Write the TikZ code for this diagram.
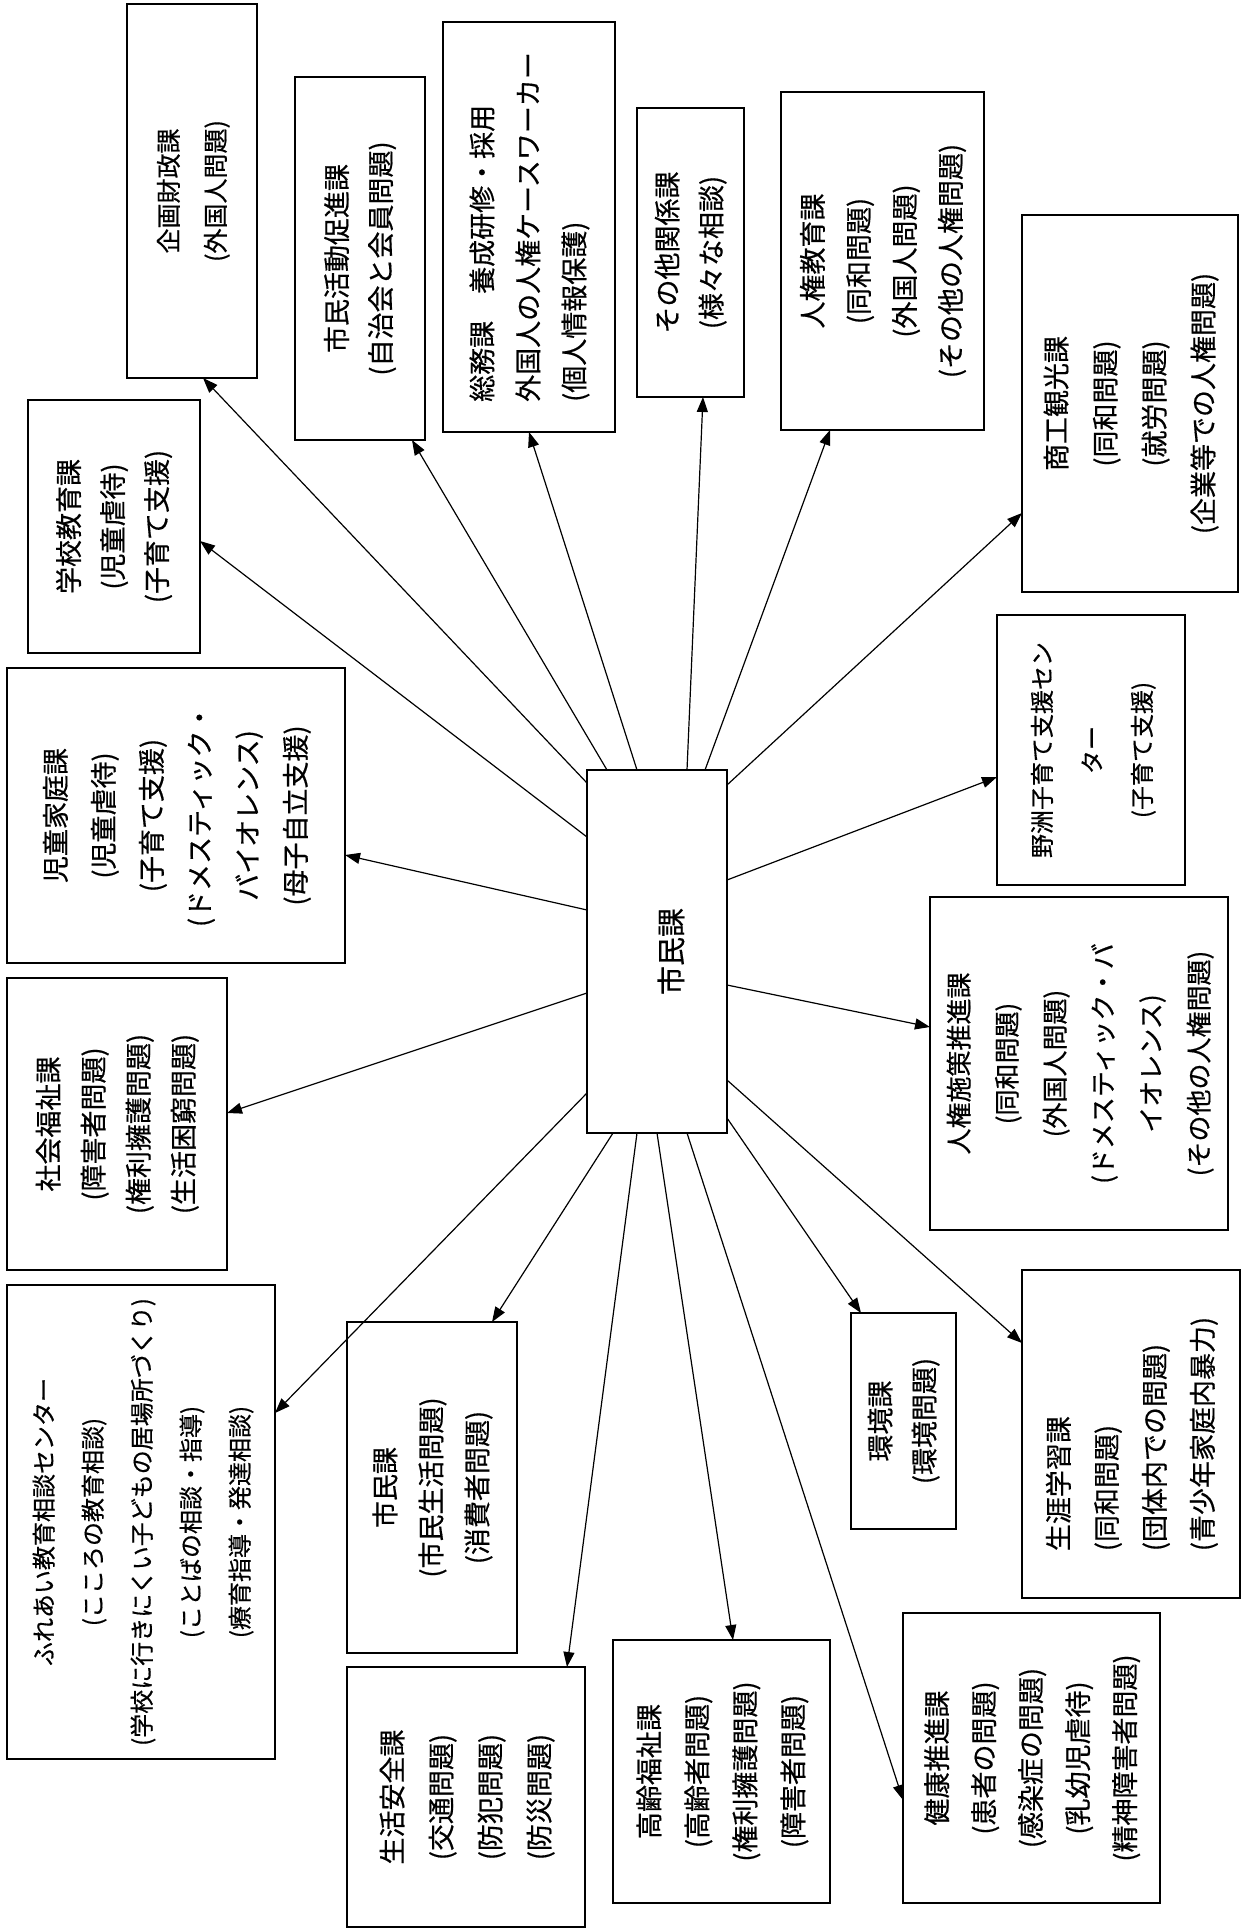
\documentclass[tikz,border=0pt]{standalone}
\usepackage{graphicx}
\usepackage{fontspec}
\setmainfont{Noto Sans CJK JP}[FakeBold=0.5]
\usetikzlibrary{arrows.meta}
\newcommand{\vtxt}[4][c]{\rotatebox{90}{\fontsize{#2}{#3}\selectfont\begin{tabular}{@{}#1@{}}#4\end{tabular}}}
\tikzset{
  box/.style={draw, line width=1.5pt, rectangle, inner sep=0pt, outer sep=0pt, fill=white},
  arr/.style={line width=1.2pt, -{Triangle[length=15pt,width=11pt]}}
}
\begin{document}
\begin{tikzpicture}[x=1pt,y=-1pt]
\fill[white] (0,0) rectangle (1252,1929);
\useasboundingbox (0,0) rectangle (1252,1929);

\node[box, minimum width=130pt, minimum height=374pt] (B1) at (192,191)
  {\vtxt{25}{47}{企画財政課\\(外国人問題)}};
\node[box, minimum width=130pt, minimum height=363pt] (B2) at (360,258.5)
  {\vtxt{27}{44}{市民活動促進課\\(自治会と会員問題)}};
\node[box, minimum width=172pt, minimum height=410pt] (B3) at (529,227)
  {\vtxt[l]{27}{46}{総務課　養成研修・採用\\外国人の人権ケースワーカー\\(個人情報保護)}};
\node[box, minimum width=107pt, minimum height=289pt] (B4) at (690.5,252.5)
  {\vtxt{27}{44}{その他関係課\\(様々な相談)}};
\node[box, minimum width=203pt, minimum height=338pt] (B5) at (882.5,261)
  {\vtxt{27}{46}{人権教育課\\(同和問題)\\(外国人問題)\\(その他の人権問題)}};
\node[box, minimum width=216pt, minimum height=377pt] (B6) at (1130,403.5)
  {\vtxt{27}{49}{商工観光課\\(同和問題)\\(就労問題)\\(企業等での人権問題)}};
\node[box, minimum width=172pt, minimum height=253pt] (B7) at (114,526.5)
  {\vtxt{27}{44}{学校教育課\\(児童虐待)\\(子育て支援)}};
\node[box, minimum width=338pt, minimum height=295pt] (B8) at (176,815.5)
  {\vtxt{27}{48}{児童家庭課\\(児童虐待)\\(子育て支援)\\(ドメスティック・\\バイオレンス)\\(母子自立支援)}};
\node[box, minimum width=188pt, minimum height=270pt] (B9) at (1091,750)
  {\vtxt{24}{50}{野洲子育て支援セン\\ター\hfill\\(子育て支援)}};
\node[box, minimum width=140pt, minimum height=363pt] (C) at (657,951.5)
  {\rotatebox{90}{\fontsize{29}{47}\selectfont\raisebox{-25pt}[0pt][0pt]{市民課}}};
\node[box, minimum width=298pt, minimum height=333pt] (B11) at (1079,1063.5)
  {\vtxt{26}{48}{人権施策推進課\\(同和問題)\\(外国人問題)\\(ドメスティック・バ\\イオレンス)\\(その他の人権問題)}};
\node[box, minimum width=220pt, minimum height=292pt] (B12) at (117,1124)
  {\vtxt{27}{45}{社会福祉課\\(障害者問題)\\(権利擁護問題)\\(生活困窮問題)}};
\node[box, minimum width=268pt, minimum height=474pt] (B13) at (141,1522)
  {\vtxt{24}{49}{ふれあい教育相談センター\\(こころの教育相談)\\(学校に行きにくい子どもの居場所づくり)\\(ことばの相談・指導)\\(療育指導・発達相談)}};
\node[box, minimum width=170pt, minimum height=331pt] (B14) at (432,1487.5)
  {\vtxt{27}{46}{市民課\\(市民生活問題)\\(消費者問題)}};
\node[box, minimum width=105pt, minimum height=216pt] (B15) at (903.5,1421)
  {\vtxt{27}{44}{環境課\\(環境問題)}};
\node[box, minimum width=218pt, minimum height=328pt] (B16) at (1131,1434)
  {\vtxt[l]{27}{48}{生涯学習課\\(同和問題)\\(団体内での問題)\\(青少年家庭内暴力)}};
\node[box, minimum width=238pt, minimum height=260pt] (B17) at (466,1797)
  {\vtxt{27}{49}{生活安全課\\(交通問題)\\(防犯問題)\\(防災問題)}};
\node[box, minimum width=217pt, minimum height=263pt] (B18) at (721.5,1771.5)
  {\vtxt{27}{48}{高齢福祉課\\(高齢者問題)\\(権利擁護問題)\\(障害者問題)}};
\node[box, minimum width=257pt, minimum height=290pt] (B19) at (1031.5,1758)
  {\vtxt{27}{47}{健康推進課\\(患者の問題)\\(感染症の問題)\\(乳幼児虐待)\\(精神障害者問題)}};

\draw[arr] ([yshift=-13pt]C.north west) -- ([xshift=11pt]B1.south);
\draw[arr] ([xshift=20pt]C.north west) -- ([xshift=52pt]B2.south);
\draw[arr] ([xshift=50pt]C.north west) -- (B3.south);
\draw[arr] ([xshift=100pt]C.north west) -- ([xshift=12.5pt]B4.south);
\draw[arr] ([xshift=118pt]C.north west) -- ([xshift=-52.5pt]B5.south);
\draw[arr] ([yshift=-15pt]C.north east) -- ([yshift=-109.5pt]B6.west);
\draw[arr] ([yshift=-67pt]C.north west) -- ([yshift=-14.5pt]B7.east);
\draw[arr] ([yshift=-140pt]C.north west) -- ([yshift=-39.5pt]B8.east);
\draw[arr] ([yshift=-110pt]C.north east) -- ([yshift=-27pt]B9.west);
\draw[arr] ([yshift=-215pt]C.north east) -- ([yshift=36.5pt]B11.west);
\draw[arr] ([yshift=-223pt]C.north west) -- ([yshift=11pt]B12.east);
\draw[arr] ([yshift=-323pt]C.north west) -- ([yshift=109pt]B13.east);
\draw[arr] ([xshift=26pt]C.south west) -- ([xshift=60pt]B14.north);
\draw[arr] ([xshift=50pt]C.south west) -- ([xshift=101pt]B17.north);
\draw[arr] ([xshift=70pt]C.south west) -- ([xshift=11.5pt]B18.north);
\draw[arr] ([xshift=100pt]C.south west) -- ([yshift=-42pt]B19.west);
\draw[arr] ([yshift=15pt]C.south east) -- ([xshift=-42.5pt]B15.north);
\draw[arr] ([yshift=53pt]C.south east) -- ([yshift=91pt]B16.west);
\end{tikzpicture}
\end{document}
